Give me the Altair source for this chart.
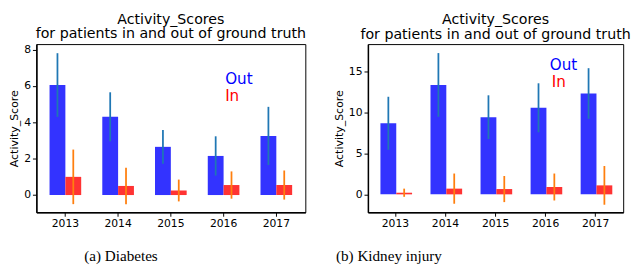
import altair as alt
import pandas as pd

years = ["2013", "2014", "2015", "2016", "2017"]
groups = ["Out", "In"]

# Diabetes
dia_out_mean = [6.05, 4.30, 2.65, 2.15, 3.25]
dia_out_std = [1.75, 1.35, 0.93, 1.08, 1.60]
dia_in_mean = [1.00, 0.50, 0.25, 0.55, 0.55]
dia_in_std = [1.50, 1.00, 0.60, 0.75, 0.80]

# Kidney injury
kid_out_mean = [8.70, 13.40, 9.45, 10.60, 12.35]
kid_out_std = [3.25, 3.90, 2.68, 3.00, 3.10]
kid_in_mean = [0.20, 0.70, 0.65, 0.90, 1.10]
kid_in_std = [0.50, 1.85, 1.60, 1.65, 2.37]

titles = ["Activity_Scores", "for patients in and out of ground truth"]
captions = ["(a) Diabetes", "(b) Kidney injury"]


def table(out_m, out_s, in_m, in_s):
    rows = []
    for i, y in enumerate(years):
        rows.append(dict(year=y, group="Out", mean=out_m[i], lo=out_m[i] - out_s[i], hi=out_m[i] + out_s[i]))
        rows.append(dict(year=y, group="In", mean=in_m[i], lo=in_m[i] - in_s[i], hi=in_m[i] + in_s[i]))
    return pd.DataFrame(rows)


SANS = "DejaVu Sans"


def panel(df, caption, ydomain, yticks, width, title_x, legend_pos):
    xenc = alt.X(
        "year:O",
        scale=alt.Scale(paddingInner=0.4, paddingOuter=0.25),
        axis=alt.Axis(
            title=caption, labelAngle=0, titleFont="Liberation Serif", titleFontSize=15.5,
            titleFontWeight="normal", titleX=title_x, titleY=37, titleColor="black",
        ),
    )
    xoff = alt.XOffset("group:N", scale=alt.Scale(domain=groups))
    yscale = alt.Scale(domain=ydomain, nice=False, zero=False)
    base = alt.Chart(df)
    bars = base.mark_bar(opacity=1).encode(
        x=xenc, xOffset=xoff,
        y=alt.Y("mean:Q", scale=yscale,
                axis=alt.Axis(title="Activity_Score", values=yticks, titlePadding=4)),
        color=alt.Color("group:N", scale=alt.Scale(domain=groups, range=["#3333ff", "#ff3333"]), legend=None),
    )
    errs = base.mark_rule(strokeWidth=1.8).encode(
        x=xenc, xOffset=xoff,
        y=alt.Y("lo:Q", scale=yscale),
        y2="hi:Q",
        color=alt.Color("group:N", scale=alt.Scale(domain=groups, range=["#1f77b4", "#ff7f0e"]), legend=None),
    )
    leg_df = pd.DataFrame({"label": groups})
    (ox, oy), (ix, iy) = legend_pos
    out_t = alt.Chart(leg_df).transform_filter(alt.datum.label == "Out").mark_text(
        align="left", baseline="alphabetic", fontSize=15.5, font=SANS, color="#0000ff"
    ).encode(text="label:N", x=alt.value(ox), y=alt.value(oy))
    in_t = alt.Chart(leg_df).transform_filter(alt.datum.label == "In").mark_text(
        align="left", baseline="alphabetic", fontSize=15.5, font=SANS, color="#ff0000"
    ).encode(text="label:N", x=alt.value(ix), y=alt.value(iy))
    return alt.layer(bars, errs, out_t, in_t).resolve_scale(color="independent").properties(
        width=width, height=172,
        title=alt.TitleParams(titles, fontSize=14.5, font=SANS, fontWeight="normal",
                              anchor="middle", color="black", offset=2, lineHeight=15),
    )


left = panel(table(dia_out_mean, dia_out_std, dia_in_mean, dia_in_std), captions[0],
             [-0.95, 8.3], [0, 2, 4, 6, 8], 275, 86, ((193, 41), (193, 58)))
right = panel(table(kid_out_mean, kid_out_std, kid_in_mean, kid_in_std), captions[1],
              [-2.2, 18.4], [0, 5, 10, 15], 261, 21, ((186, 26), (188, 44)))

chart = alt.hconcat(left, right, spacing=26).properties(
    padding={"left": 0, "top": 0, "right": 0, "bottom": 0}
).configure_view(stroke="black", strokeWidth=1).configure_axis(
    grid=False, labelFont=SANS, labelFontSize=11, labelColor="black",
    titleFont=SANS, titleFontSize=11.2, titleFontWeight="normal", titleColor="black",
    domainColor="black", domainWidth=1.5, tickColor="black", tickSize=4, labelPadding=2,
)

chart.save("out.html", embed_options={"renderer": "svg", "actions": False})
